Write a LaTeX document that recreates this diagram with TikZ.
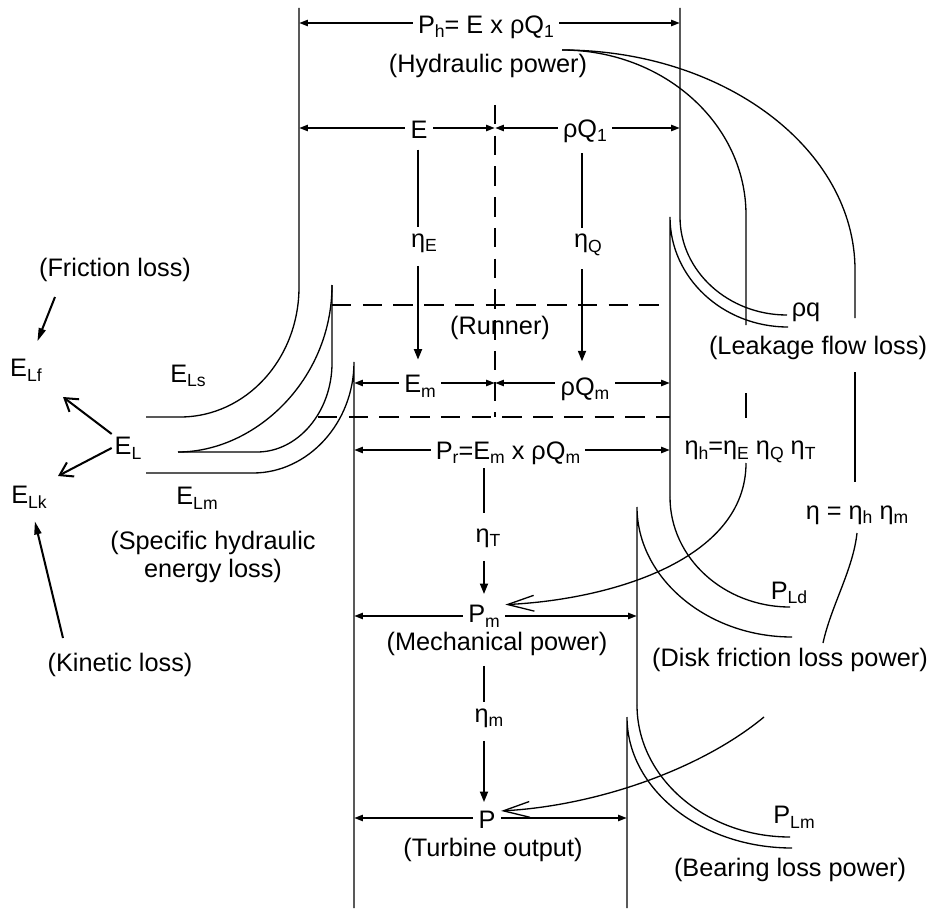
\documentclass[tikz,border=0pt]{standalone}
\usepackage{fontspec}
\setmainfont{Liberation Sans}
\usetikzlibrary{arrows.meta, positioning, calc}
\newcommand{\sbs}[1]{\raisebox{-0.35ex}{\fontsize{10}{10}\selectfont #1}}

\begin{document}
\begin{tikzpicture}[x=0.02cm, y=-0.02cm,
    wall/.style={line width=0.75pt},
    runner/.style={line width=0.75pt, dash pattern=on 11pt off 6.5pt},
    dim/.style={{Triangle[length=5pt,width=3.4pt]}-{Triangle[length=5pt,width=3.4pt]}, line width=1.15pt},
    flow/.style={-{Triangle[length=6pt,width=4.5pt]}, line width=1.15pt},
    link/.style={line width=0.75pt},
    gain/.style={-{Straight Barb[length=15pt,width=9pt]}, line width=0.75pt},
    pick/.style={-{Straight Barb[length=7pt,width=9pt]}, line width=1.15pt},
    note/.style={-{Triangle[length=7.5pt,width=4pt]}, line width=1.15pt},
    lbl/.style={font=\fontsize{14.4}{16.4}\selectfont, inner sep=1.5pt},
    mask/.style={lbl, fill=white, inner ysep=0pt, inner xsep=3pt}
]
\useasboundingbox (0,0) rectangle (933,909);

% walls, left side
\draw[wall] (299,8) -- (299,287) .. controls (299,359) and (246,417) .. (180,417) -- (146,417);
\draw[wall] (332,285) -- (332,363) .. controls (332,412) and (298,452) .. (257,452) -- (178,452);
\draw[wall] (332,285) .. controls (332,380) and (255,452) .. (178,452);
\draw[wall] (354,908) -- (354,362) .. controls (354,423) and (308,473) .. (253,473) -- (146,473);

% walls, right side
\draw[wall] (680,8) -- (680,217) .. controls (680,271) and (728,315) .. (787,315);
\draw[wall] (670,497) -- (670,217) .. controls (670,278) and (723,327) .. (788,327);
\draw[wall] (670,497) .. controls (670,558) and (724,607) .. (790,607);
\draw[wall] (637,705) -- (637,507) .. controls (637,578) and (707,637) .. (792,637);
\draw[wall] (637,705) .. controls (637,778) and (706,837) .. (790,837);
\draw[wall] (627,908) -- (627,717) .. controls (627,789) and (701,848) .. (792,848);

% runner
\draw[runner] (332,305) -- (670,305);
\draw[runner] (318,417) -- (670,417);
\draw[runner] (495,105) -- (495,417);

% dimension lines
\draw[dim] (299,23) -- (680,23);
\draw[dim] (299,128) -- (495,128);
\draw[dim] (495,128) -- (680,128);
\draw[dim] (354,383) -- (495,383);
\draw[dim] (495,383) -- (670,383);
\draw[dim] (354,450) -- (670,450);
\draw[dim] (354,616) -- (637,616);
\draw[dim] (354,818) -- (627,818);

% labels in the middle
\node[mask] (ph) at (486,27) {P\sbs{h}= E x ρQ\sbs{1}};
\node[lbl] (hyd) at (488,66) {(Hydraulic power)};
\node[mask] (e) at (419,130) {E};
\node[mask] (rq1) at (585,131) {ρQ\sbs{1}};
\node[lbl] (etaE) at (424,243) {η\sbs{E}};
\node[lbl] (etaQ) at (588,245) {η\sbs{Q}};
\node[lbl] (runnr) at (500,328) {(Runner)};
\node[mask] (em) at (420,386) {E\sbs{m}};
\node[mask] (rqm) at (585,389) {ρQ\sbs{m}\hspace{9pt}};
\node[mask] (pr) at (508,453) {P\sbs{r}=E\sbs{m} x ρQ\sbs{m}\hspace{22pt}};
\node[lbl] (etaT) at (488,538) {η\sbs{T}};
\node[mask] (pm) at (484,616) {P\sbs{m}\hspace{10pt}};
\node[lbl] (mech) at (497,644) {(Mechanical power)};
\node[lbl] (etam) at (489,718) {η\sbs{m}};
\node[mask] (pout) at (487,820) {P};
\node[lbl] (turb) at (493,850) {(Turbine output)};

% labels on the right
\node[lbl] (rhoq) at (806,312) {ρq};
\node[lbl] (leak) at (818,348) {(Leakage flow loss)};
\node[lbl] (etah) at (750,452) {η\sbs{h}=η\sbs{E} η\sbs{Q} η\sbs{T}};
\node[lbl] (eta) at (857,515) {η = η\sbs{h} η\sbs{m}};
\node[lbl] (pld) at (789,593) {P\sbs{Ld}};
\node[lbl] (disk) at (790,660) {(Disk friction loss power)};
\node[lbl] (plm) at (794,817) {P\sbs{Lm}};
\node[lbl] (bear) at (790,870) {(Bearing loss power)};

% labels on the left
\node[lbl] (els) at (188,376) {E\sbs{Ls}};
\node[lbl] (el) at (128,448) {E\sbs{L}};
\node[lbl] (elm) at (197,498) {E\sbs{Lm}};
\node[lbl] (elf) at (26,370) {E\sbs{Lf}};
\node[lbl] (elk) at (29,497) {E\sbs{Lk}};
\node[lbl] (fric) at (115,270) {(Friction loss)};
\node[lbl, align=center] (spec) at (213,557) {(Specific hydraulic\\energy loss)};
\node[lbl] (kin) at (120,665) {(Kinetic loss)};

% efficiency chain
\coordinate (ex) at (418,0);
\coordinate (qx) at (582,0);
\coordinate (tx) at (484,0);
\draw[link, shorten <=6pt, shorten >=2pt] (ex |- e.south) -- (ex |- etaE.north);
\draw[flow, shorten <=6pt, shorten >=8.5pt] (ex |- etaE.south) -- (ex |- em.north);
\draw[link, shorten <=6pt, shorten >=2pt] (qx |- rq1.south) -- (qx |- etaQ.north);
\draw[flow, shorten <=6pt, shorten >=9pt] (qx |- etaQ.south) -- (qx |- rqm.north);
\draw[link, shorten <=2pt, shorten >=7pt] (tx |- pr.south) -- (tx |- etaT.north);
\draw[flow, shorten <=6pt, shorten >=6pt] (tx |- etaT.south) -- (tx |- pm.north);
\draw[link, shorten <=4pt, shorten >=2pt] (tx |- mech.south) -- (tx |- etam.north);
\draw[flow, shorten <=6pt, shorten >=5pt] (tx |- etam.south) -- (tx |- pout.north);

% hydraulic and overall efficiency lines
\coordinate (src) at (562,50);
\coordinate (hA) at (746,215);
\coordinate (hB) at (746,325);
\coordinate (hC) at (746,393);
\coordinate (hD) at (746,418);
\coordinate (hE) at (746,463);
\coordinate (oA) at (855,270);
\coordinate (oB) at (855,318);
\coordinate (oC) at (855,372);
\coordinate (oD) at (855,482);
\coordinate (oE) at (857,533);
\coordinate (oF) at (823,643);
\coordinate (oG) at (764,717);
\draw[link] (src) .. controls +(102,0) and +(0,-91) .. (hA) -- (hB);
\draw[link] (hC) -- (hD);
\draw[gain] (hE) .. controls +(0,97) and +(105,-5) .. (pm.north east);
\draw[link] (src) .. controls +(162,0) and +(0,-121) .. (oA) -- (oB);
\draw[link] (oC) -- (oD);
\draw[link] (oE) .. controls +(-4,37) and +(8,-37) .. (oF);
\draw[gain] (oG) .. controls +(-64,53) and +(94,-5) .. (pout.north east);

% loss arrows on the left
\coordinate (fa) at (55,297);
\coordinate (ka) at (63,638);
\coordinate (tf) at (63,397);
\coordinate (tk) at (58,476);
\draw[note, shorten >=9pt] (fa) -- (elf);
\draw[note, shorten >=6pt] (ka) -- (elk);
\draw[pick] (el.north west) -- (tf);
\draw[pick] (el.west) -- (tk);
\end{tikzpicture}
\end{document}
